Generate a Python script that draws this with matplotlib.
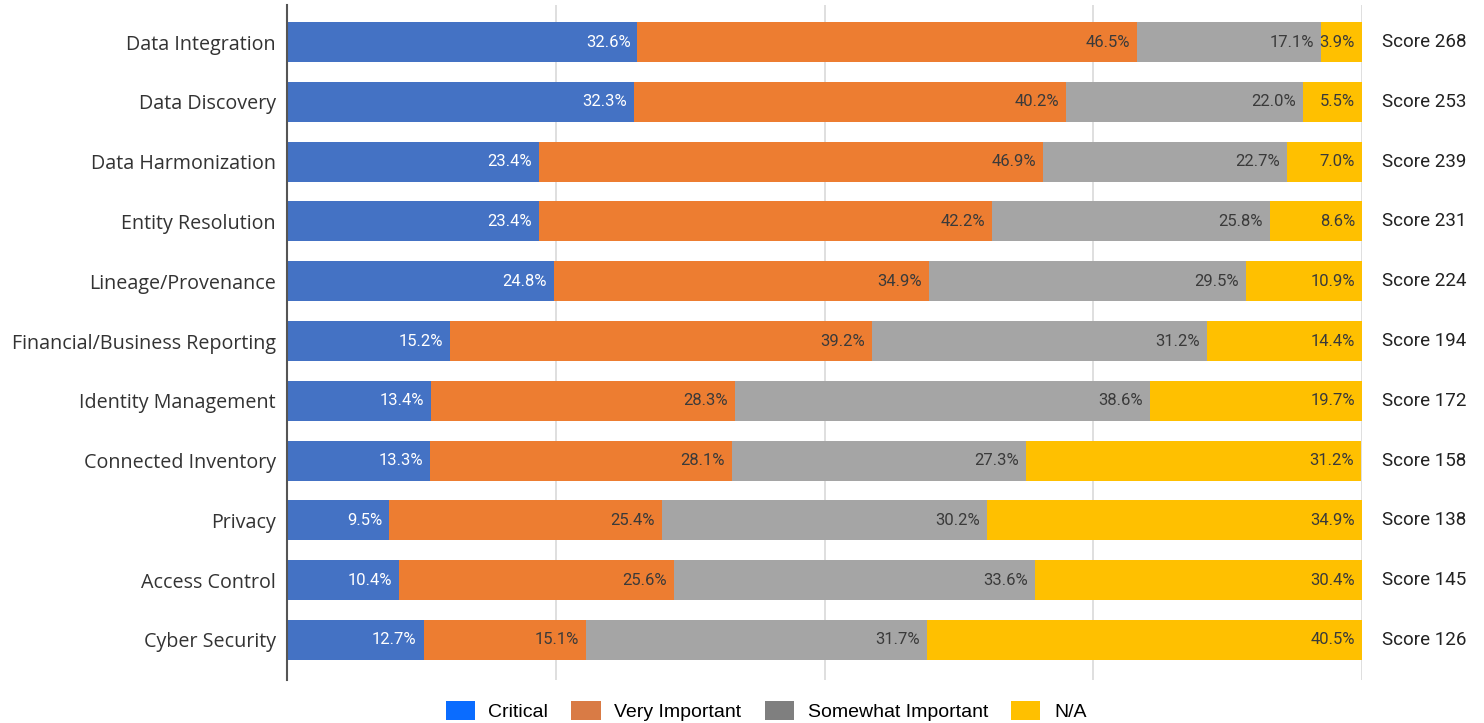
import numpy as np
import matplotlib.pyplot as plt
from matplotlib.patches import Patch
from matplotlib import font_manager

categories = ["Data Integration", "Data Discovery", "Data Harmonization",
              "Entity Resolution", "Lineage/Provenance",
              "Financial/Business Reporting", "Identity Management",
              "Connected Inventory", "Privacy", "Access Control",
              "Cyber Security"]
critical = [32.6, 32.3, 23.4, 23.4, 24.8, 15.2, 13.4, 13.3, 9.5, 10.4, 12.7]
very_important = [46.5, 40.2, 46.9, 42.2, 34.9, 39.2, 28.3, 28.1, 25.4, 25.6, 15.1]
somewhat_important = [17.1, 22.0, 22.7, 25.8, 29.5, 31.2, 38.6, 27.3, 30.2, 33.6, 31.7]
not_applicable = [3.9, 5.5, 7.0, 8.6, 10.9, 14.4, 19.7, 31.2, 34.9, 30.4, 40.5]
scores = [268, 253, 239, 231, 224, 194, 172, 158, 138, 145, 126]

series = [critical, very_important, somewhat_important, not_applicable]
names = ["Critical", "Very Important", "Somewhat Important", "N/A"]
bar_colors = ["#4472C4", "#ED7D31", "#A5A5A5", "#FFC000"]
legend_colors = ["#0A6CFF", "#D97B45", "#7F7F7F", "#FFC000"]
text_colors = ["white", "#3a3a3a", "#3a3a3a", "#3a3a3a"]

# narrow sans for the legend if there is one
installed = {f.name for f in font_manager.fontManager.ttflist}
legend_font = "Liberation Sans Narrow" if "Liberation Sans Narrow" in installed else "Liberation Sans"

fig = plt.figure(figsize=(14.84, 7.23), dpi=100)
ax = fig.add_axes([287/1484, 1-680/723, (1362-287)/1484, 675/723])

y = np.arange(len(categories))
left = np.zeros(len(categories))
for vals, col, tcol in zip(series, bar_colors, text_colors):
    vals = np.array(vals)
    ax.barh(y, vals, left=left, height=0.67, color=col, zorder=2)
    for yi, end, v in zip(y, left + vals, vals):
        ax.annotate(f"{v:.1f}%", (min(end, 100), yi), xytext=(-5, 0),
                    textcoords="offset points", ha="right", va="center",
                    color=tcol, fontsize=12, family="Roboto", zorder=3,
                    annotation_clip=False)
    left += vals

for yi, s in zip(y, scores):
    ax.text(105.8, yi, f"Score {s}", ha="center", va="center",
            fontsize=13.5, family="Roboto", color="#222222", clip_on=False)

ax.set_xlim(0, 100)
ax.set_ylim(len(categories) - 1 + 0.67, -0.62)
ax.set_yticks(y)
ax.set_yticklabels(categories, fontsize=14.2, family="Open Sans", color="#333333")
ax.tick_params(axis="y", length=0, pad=8)
ax.set_xticks([0, 25, 50, 75, 100])
ax.tick_params(axis="x", length=0, labelbottom=False)
ax.grid(axis="x", color="#d9d9d9", linewidth=1.2, zorder=0)
for side in ["top", "right", "bottom"]:
    ax.spines[side].set_visible(False)
ax.spines["left"].set_color("#555555")
ax.spines["left"].set_linewidth(1.5)
ax.spines["left"].set_zorder(4)

legend_size = 15 if legend_font.endswith("Narrow") else 14
handles = [Patch(facecolor=c, label=n) for c, n in zip(legend_colors, names)]
fig.legend(handles=handles, loc="center", bbox_to_anchor=(766/1484, 1-711/723),
           ncol=4, frameon=False, handlelength=1.5, handleheight=1.1,
           columnspacing=1.2, handletextpad=0.7,
           prop={"family": legend_font, "size": legend_size})

fig.savefig("out.png", dpi=100)
